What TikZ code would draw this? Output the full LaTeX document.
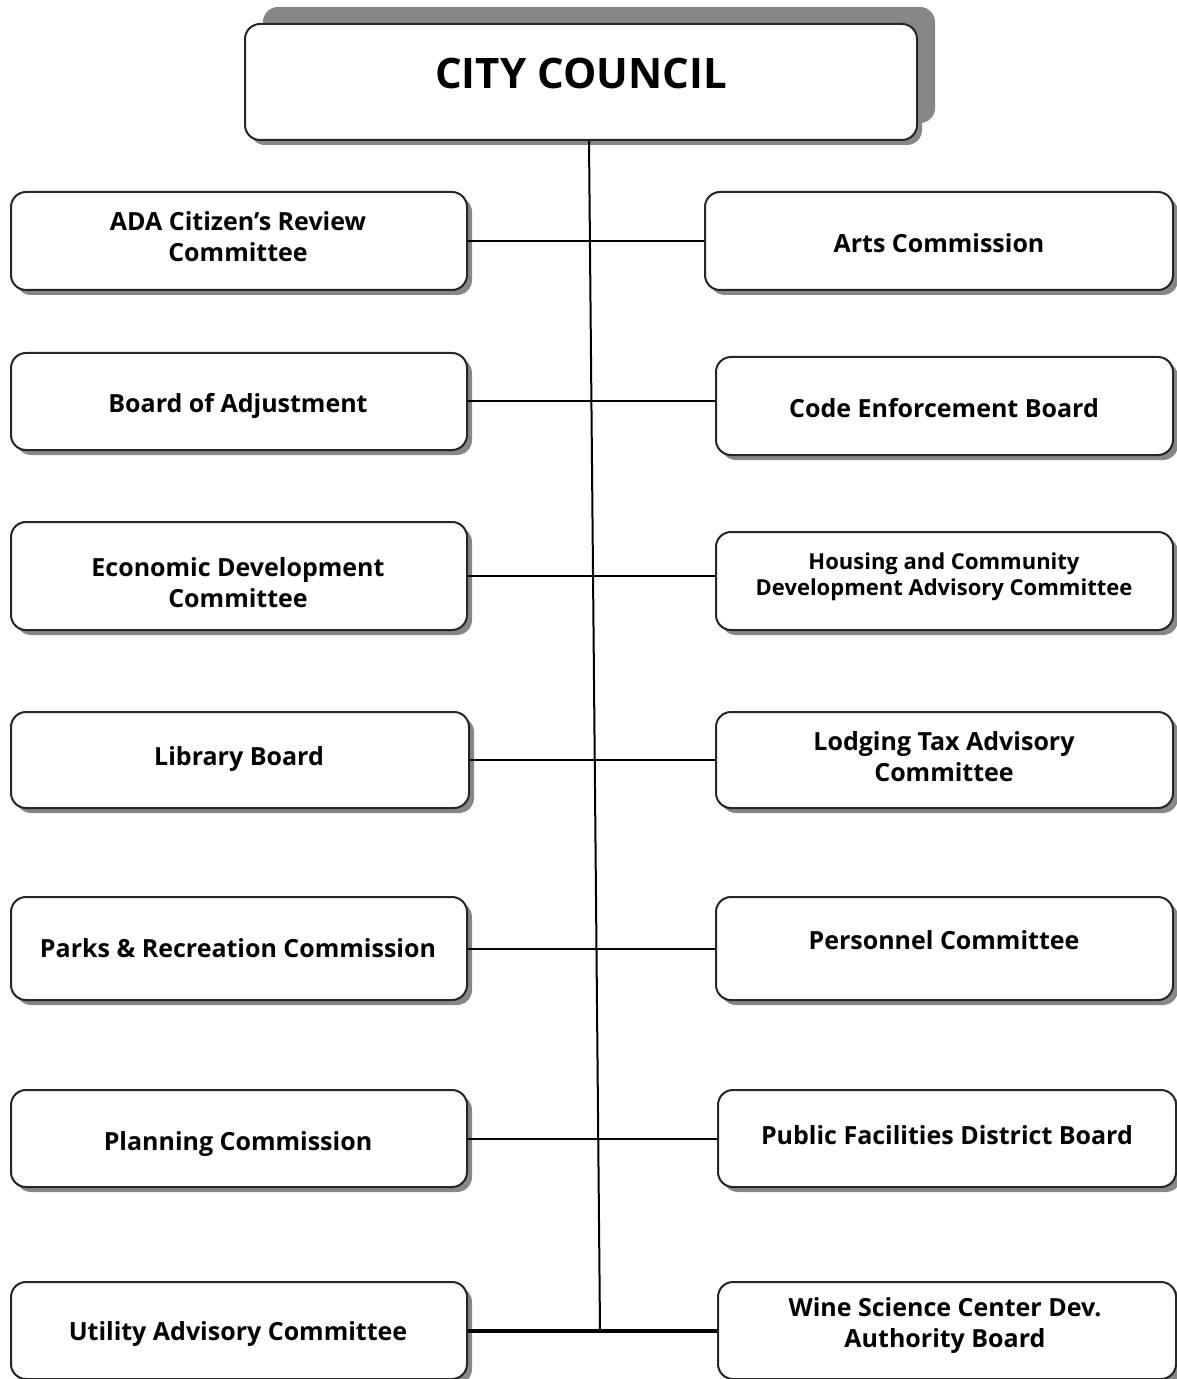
\documentclass[tikz,border=0pt]{standalone}
\usepackage{fontspec}
\setmainfont{Open Sans}
\usetikzlibrary{shadows}
\tikzset{
  board/.style={draw=black!85, line width=1pt, rounded corners=7.5pt, fill=white,
    minimum width=228pt, minimum height=48.5pt,
    general shadow={fill=black!47, shadow xshift=2.5pt, shadow yshift=-2.5pt}},
  lbl/.style={align=center, inner sep=0pt, font=\bfseries\fontsize{12.5}{15.5}\selectfont},
}
\begin{document}
\begin{tikzpicture}[x=0.5pt,y=-0.5pt]
        \useasboundingbox (0,0) rectangle (1176,1379);
        \node[board, minimum width=336pt, minimum height=58pt,
              general shadow={fill=black!47, shadow xshift=9pt, shadow yshift=8.5pt}] (council) at (581,82) {};
        \node[lbl, font=\bfseries\fontsize{21}{25}\selectfont] (counciltext) at (581,73) {CITY COUNCIL};
        % left side
        \node[board, minimum height=49pt] (ada) at (239,241) {};
        \node[board] (adjust) at (239,401.5) {};
        \node[board, minimum height=54pt] (econ) at (239,576) {};
        \node[board, minimum width=229pt, minimum height=48pt] (library) at (240,760) {};
        \node[board, minimum height=51.5pt] (parks) at (239,948.5) {};
        \node[board] (planning) at (239,1138.5) {};
        \node[board] (utility) at (239,1330.5) {};
        \node[lbl] (adatext) at (238,237) {ADA Citizen's Review\\Committee};
        \node[lbl] (adjusttext) at (238,406) {Board of Adjustment};
        \node[lbl] (econtext) at (238,583) {Economic Development\\Committee};
        \node[lbl] (librarytext) at (239,759) {Library Board};
        \node[lbl] (parkstext) at (238,948) {Parks \& Recreation Commission};
        \node[lbl] (planningtext) at (238,1144) {Planning Commission};
        \node[lbl] (utilitytext) at (238,1334) {Utility Advisory Committee};
        % right side
        \node[board, minimum width=234pt, minimum height=49pt] (arts) at (939,241) {};
        \node[board, minimum width=228.5pt, minimum height=49pt] (code) at (944.5,406) {};
        \node[board, minimum width=228.5pt, minimum height=49pt] (housing) at (944.5,581) {};
        \node[board, minimum width=228.5pt, minimum height=48pt] (lodging) at (944.5,760) {};
        \node[board, minimum width=228.5pt, minimum height=51.5pt] (personnel) at (944.5,948.5) {};
        \node[board, minimum width=229pt] (facilities) at (947,1138.5) {};
        \node[board, minimum width=229pt] (wine) at (947,1330.5) {};
        \node[lbl] (artstext) at (939,243) {Arts Commission};
        \node[lbl] (codetext) at (944,408) {Code Enforcement Board};
        \node[lbl, font=\bfseries\fontsize{11}{13}\selectfont] (housingtext) at (944,577) {Housing and Community\\Development Advisory Committee};
        \node[lbl] (lodgingtext) at (944,757) {Lodging Tax Advisory\\Committee};
        \node[lbl] (personneltext) at (944,940) {Personnel Committee};
        \node[lbl] (facilitiestext) at (947,1135) {Public Facilities District Board};
        \node[lbl] (winetext) at (945,1325.5) {Wine Science Center Dev.\\Authority Board};
        % connectors
        \coordinate (trunk) at (600,1330);
        \draw[line width=1pt] (council.south -| 589,0) -- (trunk);
        \draw[line width=1pt] (ada.east) -- (arts.west);
        \draw[line width=1pt] (adjust.east) -- (code.west |- adjust.east);
        \draw[line width=1pt] (econ.east) -- (housing.west |- econ.east);
        \draw[line width=1pt] (library.east) -- (lodging.west);
        \draw[line width=1pt] (parks.east) -- (personnel.west);
        \draw[line width=1pt] (planning.east) -- (facilities.west);
        \draw[line width=2pt] (utility.east) -- (wine.west);
    \end{tikzpicture}
\end{document}
